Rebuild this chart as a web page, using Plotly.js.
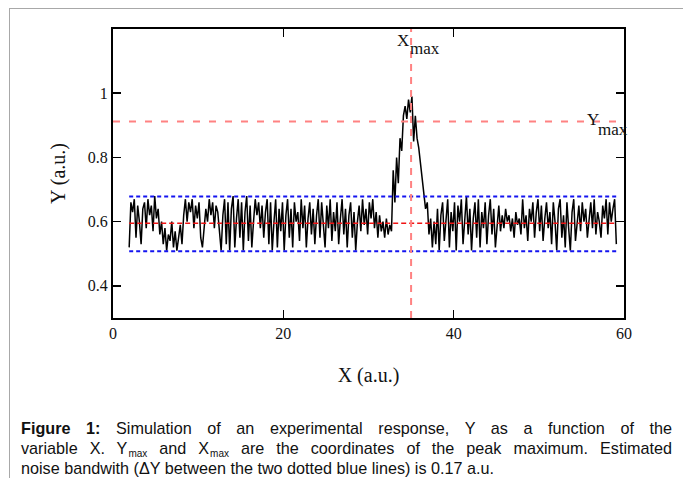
<!DOCTYPE html>
<html>
<head>
<meta charset="utf-8">
<script src="https://cdn.plot.ly/plotly-3.0.1.min.js"></script>
<style>
  html, body { margin:0; padding:0; background:#fff; }
  #wrap { position:relative; width:683px; height:478px; overflow:hidden; }
  #plot { position:absolute; left:0; top:0; width:683px; height:478px; }
  #frameTop { position:absolute; left:9px; top:8px; width:700px; height:0; border-top:1px solid #a8a8a8; }
  #frameLeft { position:absolute; left:9px; top:8px; width:0; height:480px; border-left:1px solid #a8a8a8; }
  #caption { position:absolute; left:21px; top:418px; width:651px; font-family:"Liberation Sans Narrow","Liberation Sans",Arial,sans-serif;
    font-size:16.2px; line-height:20px; color:#111; }
  #caption .j { text-align:justify; text-align-last:justify; white-space:nowrap; }
  #caption .l { text-align:left; white-space:nowrap; }
  #caption sub { font-size:10px; vertical-align:-3px; line-height:0; margin-left:1px; }
</style>
</head>
<body>
<div id="wrap">
  <div id="plot"></div>
  <div id="frameTop"></div>
  <div id="frameLeft"></div>
  <div id="caption">
    <div class="j"><b>Figure 1:</b> Simulation of an experimental response, Y as a function of the</div>
    <div class="j">variable X. Y<sub>max</sub> and X<sub>max</sub> are the coordinates of the peak maximum. Estimated</div>
    <div class="l">noise bandwith (ΔY between the two dotted blue lines) is 0.17 a.u.</div>
  </div>
</div>
<script>
// ---- data ----
var xStart = 1.9;
var xStep = 0.2;
var signalY = [
  0.52,0.66,0.63,0.67,0.55,0.65,0.60,0.53,0.64,0.66,
  0.58,0.67,0.62,0.65,0.57,0.68,0.61,0.64,0.56,0.60,
  0.53,0.58,0.51,0.56,0.54,0.60,0.52,0.57,0.51,0.55,
  0.59,0.53,0.62,0.67,0.60,0.66,0.63,0.67,0.58,0.65,
  0.61,0.66,0.55,0.52,0.59,0.64,0.60,0.67,0.62,0.66,
  0.58,0.65,0.63,0.56,0.51,0.62,0.67,0.53,0.66,0.51,
  0.64,0.68,0.52,0.61,0.67,0.55,0.66,0.51,0.63,0.68,
  0.54,0.65,0.52,0.60,0.67,0.62,0.66,0.58,0.65,0.55,
  0.63,0.67,0.53,0.66,0.51,0.60,0.67,0.52,0.64,0.57,
  0.66,0.51,0.62,0.67,0.55,0.64,0.52,0.66,0.60,0.63,
  0.54,0.67,0.58,0.65,0.52,0.61,0.66,0.56,0.64,0.53,
  0.62,0.67,0.55,0.66,0.60,0.52,0.65,0.58,0.67,0.54,
  0.63,0.57,0.66,0.53,0.61,0.67,0.56,0.64,0.52,0.62,
  0.66,0.55,0.63,0.51,0.60,0.65,0.57,0.67,0.59,0.64,
  0.56,0.66,0.61,0.67,0.58,0.63,0.55,0.62,0.57,0.60,
  0.55,0.61,0.56,0.59,0.57,0.76,0.66,0.80,0.72,0.86,
  0.82,0.93,0.96,0.92,0.98,0.94,0.99,0.85,0.93,0.86,
  0.83,0.78,0.74,0.69,0.64,0.66,0.56,0.61,0.52,0.60,
  0.53,0.64,0.51,0.62,0.66,0.54,0.60,0.67,0.52,0.63,
  0.57,0.66,0.51,0.65,0.60,0.67,0.53,0.62,0.68,0.56,
  0.64,0.51,0.61,0.66,0.55,0.67,0.52,0.63,0.58,0.66,
  0.53,0.62,0.67,0.56,0.64,0.52,0.60,0.65,0.57,0.62,
  0.58,0.64,0.60,0.62,0.57,0.61,0.55,0.63,0.59,0.61,
  0.56,0.67,0.58,0.62,0.54,0.64,0.60,0.66,0.55,0.63,
  0.67,0.57,0.65,0.54,0.61,0.66,0.58,0.63,0.53,0.66,
  0.60,0.51,0.64,0.67,0.55,0.62,0.52,0.66,0.58,0.51,
  0.63,0.67,0.54,0.61,0.65,0.57,0.66,0.60,0.64,0.55,
  0.62,0.66,0.58,0.67,0.56,0.63,0.60,0.55,0.65,0.61,
  0.67,0.56,0.66,0.60,0.64,0.67,0.53
];
var bandX = [1.9, 59.1];
var bandUpper = 0.678;
var bandLower = 0.508;
var meanY = 0.595;
var xMax = 35.0;
var yMax = 0.912;
var xRange = [0, 60];
var yRange = [0.3, 1.2];
var xTicks = [0, 20, 40, 60];
var yTicks = [0.4, 0.6, 0.8, 1];

var signalX = signalY.map(function(_, i){ return +(xStart + i*xStep).toFixed(2); });

var serif = "Liberation Serif, Times New Roman, serif";
var traces = [
  {x: signalX, y: signalY, mode:'lines', line:{color:'#000', width:1.5}, hoverinfo:'skip'},
  {x: bandX, y:[meanY, meanY], mode:'lines', line:{color:'rgb(240,20,20)', width:1.6, dash:'5px,3px'}},
  {x: bandX, y:[bandUpper, bandUpper], mode:'lines', line:{color:'rgb(20,20,240)', width:2, dash:'4px,3px'}},
  {x: bandX, y:[bandLower, bandLower], mode:'lines', line:{color:'rgb(20,20,240)', width:2, dash:'4px,3px'}},
  {x: xRange, y:[yMax, yMax], mode:'lines', line:{color:'rgb(255,130,130)', width:2, dash:'7px,9px'}},
  {x: [xMax, xMax], y: yRange, mode:'lines', line:{color:'rgb(255,130,130)', width:2, dash:'7px,6px'}}
];

var axisCommon = {
  showline:true, linecolor:'#000', linewidth:2, mirror:'ticks',
  ticks:'inside', ticklen:8, tickwidth:1.5, tickcolor:'#000',
  showgrid:false, zeroline:false,
  tickfont:{family:serif, size:16, color:'#111'}
};

var layout = {
  width:683, height:478,
  margin:{l:113, r:59, t:29, b:160},
  paper_bgcolor:'rgba(0,0,0,0)', plot_bgcolor:'#fff',
  showlegend:false,
  xaxis: Object.assign({}, axisCommon, {range:xRange, tickvals:xTicks,
    title:{text:'X (a.u.)', font:{family:serif, size:20, color:'#111'}, standoff:27}}),
  yaxis: Object.assign({}, axisCommon, {range:yRange, tickvals:yTicks,
    title:{text:'Y (a.u.)', font:{family:serif, size:20, color:'#111'}, standoff:17}}),
  annotations:[
    {x:35.0, y:1.163, xref:'x', yref:'y', text:'X', showarrow:false, xanchor:'right', yanchor:'middle', font:{family:serif, size:17, color:'#111'}},
    {x:34.65, y:1.140, xref:'x', yref:'y', text:'max', showarrow:false, xanchor:'left', yanchor:'middle', font:{family:serif, size:17, color:'#111'}},
    {x:57.33, y:0.919, xref:'x', yref:'y', text:'Y', showarrow:false, xanchor:'right', yanchor:'middle', font:{family:serif, size:17, color:'#111'}},
    {x:56.74, y:0.888, xref:'x', yref:'y', text:'max', showarrow:false, xanchor:'left', yanchor:'middle', font:{family:serif, size:17, color:'#111'}}
  ]
};

Plotly.newPlot('plot', traces, layout, {displayModeBar:false, staticPlot:true});
</script>
</body>
</html>
